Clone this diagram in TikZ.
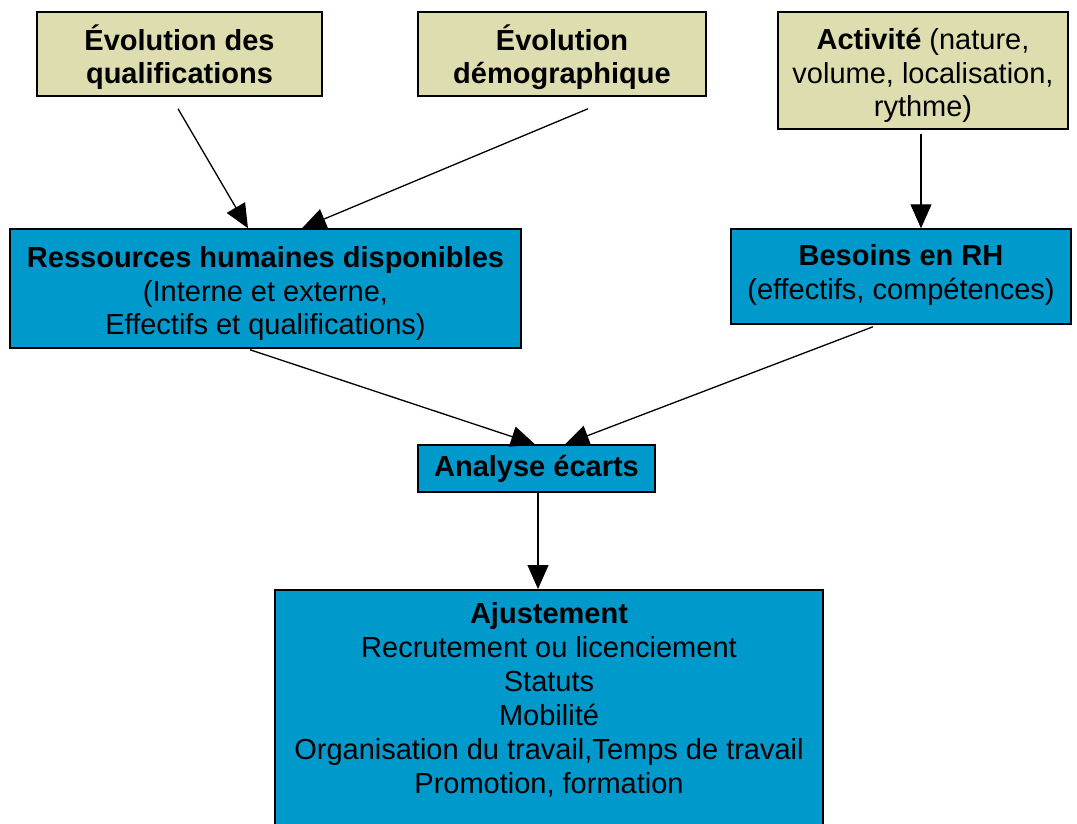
\documentclass[tikz,border=0pt]{standalone}
\usepackage{fontspec}
\setmainfont{Liberation Sans}
\usetikzlibrary{arrows.meta}
\definecolor{beige}{RGB}{221,221,176}
\definecolor{rhblue}{RGB}{0,153,204}
\newcommand{\upstrut}{\rule{0pt}{32pt}}
\tikzset{
  box/.style={draw=black, line width=1.5pt, rectangle, inner sep=0pt, align=center,
    font=\fontsize{29}{33.5}\selectfont},
  beigebox/.style={box, fill=beige},
  bluebox/.style={box, fill=rhblue},
  conn/.style={line width=1.3pt, -{Triangle[length=24pt,width=21pt]}}
}
\begin{document}
\begin{tikzpicture}[x=1pt,y=-1pt]
\useasboundingbox (0,0) rectangle (1077,823);
\node[beigebox, minimum width=285pt, minimum height=84pt] (q) at (179.5,54) {\upstrut\textbf{Évolution des}\\\textbf{qualifications}};
\node[beigebox, minimum width=288pt, minimum height=84pt] (d) at (562,54) {\upstrut\textbf{Évolution}\\\textbf{démographique}};
\node[beigebox, minimum width=290pt, minimum height=117pt] (a) at (923,70.5) {\upstrut\textbf{Activité} (nature,\\volume, localisation,\\rythme)};
\node[bluebox, minimum width=511pt, minimum height=119pt] (rh) at (265.5,288.5) {\upstrut\textbf{Ressources humaines disponibles}\\(Interne et externe,\\Effectifs et qualifications)};
\node[bluebox, minimum width=340pt, minimum height=95pt] (b) at (901,276.5) {\textbf{Besoins en RH}\\(effectifs, compétences)\\[-24pt]};
\node[bluebox, minimum width=237pt, minimum height=47pt] (an) at (536.5,468.5) {\textbf{Analyse écarts}};
\node[bluebox, minimum width=548pt, minimum height=260pt, anchor=north] (aj) at (549,589) {};
\node[align=center, anchor=north, inner sep=0pt, font=\fontsize{29}{34}\selectfont] (ajt) at ([yshift=-13pt]aj.north) {\textbf{Ajustement}\\Recrutement ou licenciement\\Statuts\\Mobilité\\Organisation du travail,Temps de travail\\Promotion, formation};
\draw[conn] ([shift={(-1.5,12)}]q.south) -- ([xshift=-17.5pt]rh.north);
\draw[conn] ([shift={(26,12)}]d.south) -- ([xshift=36.5pt]rh.north);
\draw[conn] ([shift={(-2,4)}]a.south) -- ([xshift=20pt]b.north);
\draw[conn] ([shift={(-15.5,1)}]rh.south) -- ([xshift=-1.5pt]an.north);
\draw[conn] ([shift={(-28,2)}]b.south) -- ([xshift=28.5pt]an.north);
\draw[conn] ([xshift=1.5pt]an.south) -- ([xshift=-11pt]aj.north);
\end{tikzpicture}
\end{document}
